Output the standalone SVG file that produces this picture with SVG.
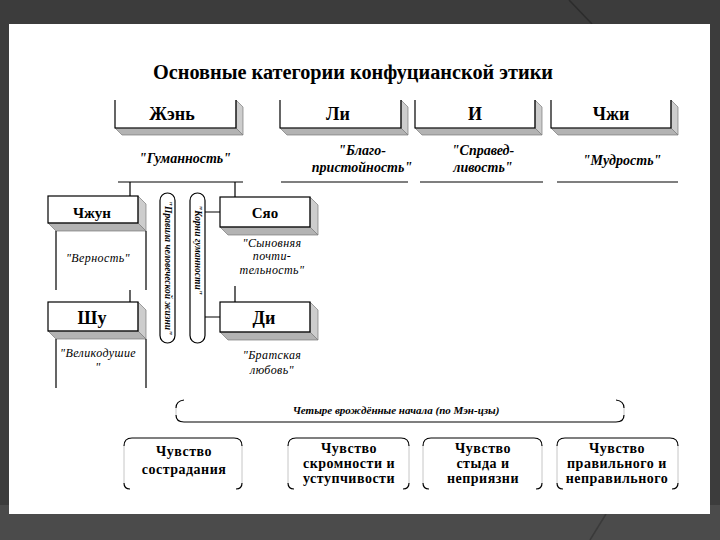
<svg xmlns="http://www.w3.org/2000/svg" width="720" height="540" viewBox="0 0 720 540">
<style>
.ln{fill:none;stroke:#000;stroke-width:1.2}
.lt{fill:none;stroke:#b8b8b8;stroke-width:0.8}
.bvb{fill:#b3b3b3;stroke:#7a7a7a;stroke-width:0.7}
.bvr{fill:#cdcdcd;stroke:#7a7a7a;stroke-width:0.7}
text{font-family:"Liberation Serif","Times New Roman",serif;fill:#000;text-anchor:middle}
.t{font-weight:bold;font-size:20px}
.h{font-weight:bold;font-size:18px}
.hs{font-weight:bold;font-size:15px}
.q{font-weight:bold;font-style:italic;font-size:14px}
.qs{font-style:italic;font-size:12px;letter-spacing:0.4px}
.v{font-weight:bold;font-style:italic;font-size:9.5px}
.m{font-weight:bold;font-style:italic;font-size:11px}
.b{font-weight:bold;font-size:14px;letter-spacing:0.5px}
</style>
<rect width="720" height="540" fill="#3c3c3c"/>
<rect x="0" y="505" width="720" height="35" fill="#4b4b4b"/>
<line x1="569" y1="0" x2="592" y2="24" stroke="#2c2c2c" stroke-width="1.5"/>
<line x1="606" y1="514" x2="590" y2="540" stroke="#3a3a3a" stroke-width="1.5"/>
<rect x="9" y="24" width="701" height="490" fill="#fff"/>

<text class="t" x="353" y="79" textLength="400" lengthAdjust="spacingAndGlyphs">Основные категории конфуцианской этики</text>

<g id="zhen">
<polygon class="bvb" points="115,128 236,128 243,135 122,135"/>
<polygon class="bvr" points="236,100 243,107 243,135 236,128"/>
<path class="ln" d="M115,100V128H236V100"/>
<text class="h" x="172" y="120">Жэнь</text>
<text class="q" x="185" y="163">"Гуманность"</text>
<path class="ln" d="M118,182H243"/>
</g>
<g id="li">
<polygon class="bvb" points="280,128 401,128 408,135 287,135"/>
<polygon class="bvr" points="401,100 408,107 408,135 401,128"/>
<path class="ln" d="M280,100V128H401V100"/>
<text class="h" x="338" y="120">Ли</text>
<text class="q" x="362" y="155">"Благо-</text>
<text class="q" x="362" y="172">пристойность"</text>
<path class="ln" d="M281,182H408"/>
</g>
<g id="i">
<polygon class="bvb" points="415,128 535,128 542,135 422,135"/>
<polygon class="bvr" points="535,100 542,107 542,135 535,128"/>
<path class="ln" d="M415,100V128H535V100"/>
<text class="h" x="475" y="120">И</text>
<text class="q" x="483" y="155">"Справед-</text>
<text class="q" x="483" y="172">ливость"</text>
<path class="ln" d="M420,182H543"/>
</g>
<g id="zhi">
<polygon class="bvb" points="551,128 671,128 678,135 558,135"/>
<polygon class="bvr" points="671,100 678,107 678,135 671,128"/>
<path class="ln" d="M551,100V128H671V100"/>
<text class="h" x="611" y="120">Чжи</text>
<text class="q" x="622" y="165">"Мудрость"</text>
<path class="ln" d="M557,182H678"/>
</g>

<g id="zhun">
<polygon class="bvb" points="48,223 138,223 146,231 56,231"/>
<polygon class="bvr" points="138,196 146,204 146,231 138,223"/>
<rect class="ln" x="48" y="196" width="90" height="27"/>
<path class="ln" d="M56,231V290M146,231V290"/>
<text class="hs" x="92" y="218">Чжун</text>
<text class="qs" x="98" y="262">"Верность"</text>
</g>
<g id="shu">
<polygon class="bvb" points="48,331 138,331 146,339 56,339"/>
<polygon class="bvr" points="138,302 146,310 146,339 138,331"/>
<rect class="ln" x="48" y="302" width="90" height="29"/>
<path class="ln" d="M56,339V388M146,339V388"/>
<text class="h" x="92" y="324">Шу</text>
<text class="qs" x="98" y="357">"Великодушие</text>
<text class="qs" x="98" y="371">"</text>
</g>
<g id="xiao">
<polygon class="bvb" points="220,227 310,227 318,235 228,235"/>
<polygon class="bvr" points="310,197 318,205 318,235 310,227"/>
<rect class="ln" x="220" y="197" width="90" height="30"/>
<text class="hs" x="265" y="218">Сяо</text>
<text class="qs" x="272" y="247">"Сыновняя</text>
<text class="qs" x="272" y="260">почти-</text>
<text class="qs" x="272" y="274">тельность"</text>
</g>
<g id="di">
<polygon class="bvb" points="220,332 310,332 318,340 228,340"/>
<polygon class="bvr" points="310,302 318,310 318,340 310,332"/>
<rect class="ln" x="220" y="302" width="90" height="30"/>
<text class="h" x="264" y="324">Ди</text>
<text class="qs" x="272" y="359">"Братская</text>
<text class="qs" x="272" y="374">любовь"</text>
</g>

<g id="pill1">
<rect class="ln" x="160" y="193" width="15" height="150" rx="7.5"/>
<text class="v" transform="translate(164.5,268) rotate(90)">"Правила человеческой жизни"</text>
</g>
<g id="pill2">
<rect class="ln" x="190" y="193" width="15" height="150" rx="7.5"/>
<text class="v" style="text-anchor:start" transform="translate(194.5,205) rotate(90)">"Корни гуманности"</text>
</g>

<g id="connectors">
<path class="ln" d="M130,182V196M235,182V197M130,290V302M235,286V302M205,212H220M205,317H220"/>
</g>

<g id="nachala">
<path class="lt" d="M176,408V415M624,408V415"/>
<path class="ln" d="M184,400Q176,401 176,408M176,415Q176,422 184,422H616Q624,422 624,415M624,408Q624,401 616,400"/>
<text class="m" x="396" y="414">Четыре врождённые начала (по Мэн-цзы)</text>
</g>

<g id="c1">
<path class="lt" d="M124,446V483M242,446V483"/>
<path class="ln" d="M124,446Q124,438 132,438H234Q242,438 242,446M124,483Q124,489 130,489M236,489Q242,489 242,483"/>
<text class="b" x="184" y="456">Чувство</text>
<text class="b" x="184" y="474">сострадания</text>
</g>
<g id="c2">
<path class="lt" d="M288,446V483M409,446V483"/>
<path class="ln" d="M288,446Q288,438 296,438H401Q409,438 409,446M288,483Q288,489 294,489M403,489Q409,489 409,483"/>
<text class="b" x="349" y="453">Чувство</text>
<text class="b" x="349" y="468">скромности и</text>
<text class="b" x="349" y="483">уступчивости</text>
</g>
<g id="c3">
<path class="lt" d="M423,446V483M542,446V483"/>
<path class="ln" d="M423,446Q423,438 431,438H534Q542,438 542,446M423,483Q423,489 429,489M536,489Q542,489 542,483"/>
<text class="b" x="483" y="453">Чувство</text>
<text class="b" x="483" y="468">стыда и</text>
<text class="b" x="483" y="483">неприязни</text>
</g>
<g id="c4">
<path class="lt" d="M557,446V483M678,446V483"/>
<path class="ln" d="M557,446Q557,438 565,438H670Q678,438 678,446M557,483Q557,489 563,489M672,489Q678,489 678,483"/>
<text class="b" x="617" y="453">Чувство</text>
<text class="b" x="617" y="468">правильного и</text>
<text class="b" x="617" y="483">неправильного</text>
</g>
</svg>
